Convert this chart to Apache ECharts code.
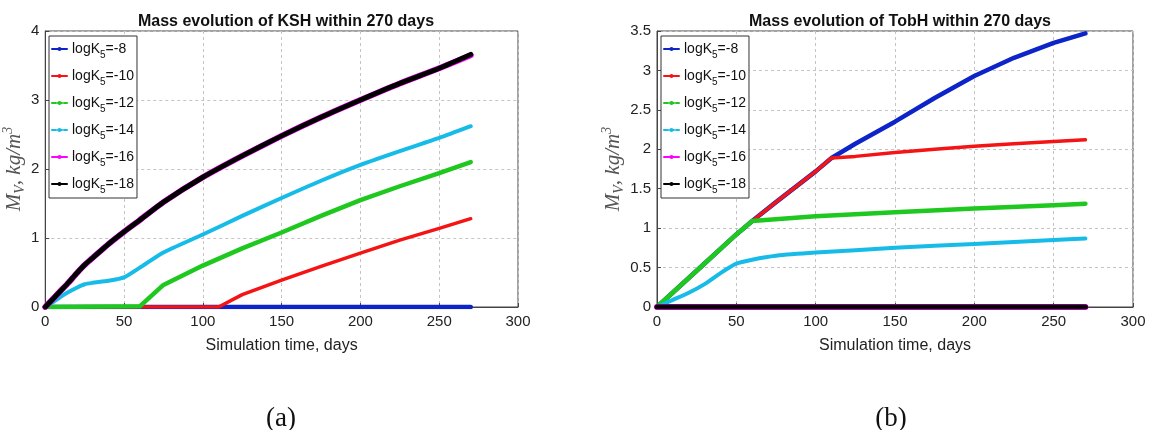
<!DOCTYPE html>
<html>
<head>
<meta charset="utf-8">
<script src="https://cdn.jsdelivr.net/npm/echarts@6/dist/echarts.min.js"></script>
<style>
html,body{margin:0;padding:0;background:#fff;}
#chart{width:1151px;height:430px;}
</style>
</head>
<body>
<div id="chart"></div>
<script>
// ---------- DATA ----------
const seriesNames = ['logK5=-8', 'logK5=-10', 'logK5=-12', 'logK5=-14', 'logK5=-16', 'logK5=-18'];
const titleA = 'Mass evolution of KSH within 270 days';
const titleB = 'Mass evolution of TobH within 270 days';
const xTicks = [0, 50, 100, 150, 200, 250, 300];
const yTicksA = [0, 1, 2, 3, 4];
const yTicksB = [0, 0.5, 1, 1.5, 2, 2.5, 3, 3.5];

// (a) KSH
const kshM8Days  = [0, 270];
const kshM8Vals  = [0, 0];
const kshM10Days = [0, 110, 125, 150, 175, 200, 225, 250, 270];
const kshM10Vals = [0, 0, 0.18, 0.39, 0.59, 0.78, 0.97, 1.14, 1.28];
const kshM12Days = [0, 60, 75, 100, 125, 150, 175, 200, 225, 250, 270];
const kshM12Vals = [0, 0.01, 0.32, 0.6, 0.85, 1.08, 1.32, 1.55, 1.75, 1.94, 2.1];
const kshM14Days = [0, 5, 10, 15, 20, 25, 30, 40, 50, 60, 75, 100, 125, 150, 175, 200, 225, 250, 270];
const kshM14Vals = [0, 0.07, 0.15, 0.22, 0.28, 0.33, 0.35, 0.38, 0.43, 0.57, 0.79, 1.05, 1.32, 1.58, 1.83, 2.06, 2.26, 2.45, 2.62];
const kshM16Days = [0, 5, 10, 15, 20, 25, 30, 40, 50, 60, 75, 100, 125, 150, 175, 200, 225, 250, 270];
const kshM16Vals = [0, 0.12, 0.24, 0.36, 0.49, 0.61, 0.71, 0.91, 1.09, 1.26, 1.52, 1.88, 2.19, 2.48, 2.75, 3.0, 3.24, 3.46, 3.65];
const kshM18Days = [0, 5, 10, 15, 20, 25, 30, 40, 50, 60, 75, 100, 125, 150, 175, 200, 225, 250, 270];
const kshM18Vals = [0, 0.12, 0.24, 0.36, 0.49, 0.61, 0.71, 0.91, 1.09, 1.26, 1.52, 1.88, 2.19, 2.48, 2.75, 3.0, 3.24, 3.46, 3.66];

// (b) TobH
const tobM8Days  = [0, 25, 50, 60, 75, 100, 110, 125, 150, 175, 200, 225, 250, 270];
const tobM8Vals  = [0, 0.46, 0.92, 1.09, 1.33, 1.72, 1.89, 2.07, 2.35, 2.65, 2.93, 3.16, 3.35, 3.47];
const tobM10Days = [0, 25, 50, 60, 75, 100, 110, 125, 150, 175, 200, 225, 250, 270];
const tobM10Vals = [0, 0.46, 0.92, 1.09, 1.33, 1.72, 1.89, 1.91, 1.96, 2.0, 2.04, 2.07, 2.1, 2.12];
const tobM12Days = [0, 25, 50, 60, 100, 150, 200, 250, 270];
const tobM12Vals = [0, 0.46, 0.92, 1.09, 1.15, 1.2, 1.25, 1.29, 1.31];
const tobM14Days = [0, 10, 20, 30, 40, 50, 60, 75, 100, 150, 200, 250, 270];
const tobM14Vals = [0, 0.09, 0.18, 0.29, 0.43, 0.55, 0.6, 0.65, 0.69, 0.75, 0.8, 0.85, 0.87];
const tobM16Days = [0, 270];
const tobM16Vals = [0, 0];
const tobM18Days = [0, 270];
const tobM18Vals = [0, 0];

// ---------- STYLES ----------
const colors = ['#0c24c8', '#f41414', '#1ec81e', '#16bbe8', '#ff00ff', '#000000'];
const widths = [4.5, 3.5, 4.5, 4, 6, 5];
const dashedLegend = [false, false, true, true, false, false];
const smoothA = [false, false, false, 0.2, 0.2, 0.2];
const smoothB = [false, false, false, 0.2, false, false];

function pairs(days, vals) { return days.map((d, i) => [d, vals[i]]); }

const ksh = [[kshM8Days, kshM8Vals], [kshM10Days, kshM10Vals], [kshM12Days, kshM12Vals],
             [kshM14Days, kshM14Vals], [kshM16Days, kshM16Vals], [kshM18Days, kshM18Vals]];
const tob = [[tobM8Days, tobM8Vals], [tobM10Days, tobM10Vals], [tobM12Days, tobM12Vals],
             [tobM14Days, tobM14Vals], [tobM16Days, tobM16Vals], [tobM18Days, tobM18Vals]];

const series = [];
[ksh, tob].forEach((set, gi) => {
  const sm = gi === 0 ? smoothA : smoothB;
  set.forEach((s, i) => {
    series.push({
      name: seriesNames[i],
      type: 'line',
      xAxisIndex: gi, yAxisIndex: gi,
      data: pairs(s[0], s[1]),
      showSymbol: false,
      symbol: 'circle',
      symbolSize: 4,
      smooth: sm[i],
      animation: false,
      color: colors[i],
      lineStyle: { width: widths[i], color: colors[i], cap: 'round', join: 'round' },
      emphasis: { disabled: true }
    });
  });
});

const legendData = seriesNames.map((n, i) => dashedLegend[i]
  ? { name: n, lineStyle: { type: [4, 2], width: 2 } }
  : { name: n, lineStyle: { width: 2 } });

const tickFont = { color: '#222', fontSize: 15, fontFamily: 'Liberation Sans, Arial, sans-serif' };

function legendCfg(left) {
  return {
    orient: 'vertical',
    left: left, top: 36,
    data: legendData,
    backgroundColor: '#fff',
    borderColor: '#333', borderWidth: 1,
    padding: [2, 3, 3, 2],
    itemGap: 5,
    itemWidth: 15, itemHeight: 5,
    selectedMode: false,
    formatter: n => n.replace('K5', 'K{s|5}'),
    textStyle: {
      color: '#111', fontSize: 14, fontFamily: 'Liberation Sans, Arial, sans-serif',
      rich: {
        s: { fontSize: 10, lineHeight: 10, verticalAlign: 'bottom', fontFamily: 'Liberation Sans, Arial, sans-serif', color: '#111' }
      },
      lineHeight: 22
    }
  };
}

const yName = '{m|M}{sub|V}{m|, kg/m}{sup|3}';
const yNameStyle = {
  color: '#555', fontFamily: 'Liberation Serif, serif', fontStyle: 'italic', fontSize: 21,
  rich: {
    m: { fontSize: 21, lineHeight: 26, fontStyle: 'italic', fontFamily: 'Liberation Serif, serif', color: '#555' },
    sub: { fontSize: 14, lineHeight: 13, verticalAlign: 'bottom', fontStyle: 'italic', fontFamily: 'Liberation Serif, serif', color: '#555' },
    sup: { fontSize: 14, lineHeight: 13, verticalAlign: 'top', fontFamily: 'Liberation Serif, serif', color: '#555' }
  }
};

function xAxisCfg(gi) {
  return {
    type: 'value', gridIndex: gi, min: xTicks[0], max: xTicks[xTicks.length - 1], interval: xTicks[1] - xTicks[0],
    name: 'Simulation time, days', nameLocation: 'middle', nameGap: 31,
    nameTextStyle: { color: '#222', fontSize: 16, fontFamily: 'Liberation Sans, Arial, sans-serif' },
    axisLine: { show: true, onZero: false, lineStyle: { color: '#444', width: 1 } },
    axisTick: { show: true, inside: true, length: 4, lineStyle: { color: '#444' } },
    axisLabel: Object.assign({ margin: 7 }, tickFont),
    splitLine: { show: true, lineStyle: { color: '#c4c4c4', type: [3, 3], width: 1 } }
  };
}
function yAxisCfg(gi, ticks, gap) {
  return {
    type: 'value', gridIndex: gi, min: ticks[0], max: ticks[ticks.length - 1], interval: ticks[1] - ticks[0],
    name: yName, nameLocation: 'middle', nameGap: gap, nameRotate: 90,
    nameTextStyle: yNameStyle,
    axisLine: { show: true, lineStyle: { color: '#444', width: 1 } },
    axisTick: { show: true, inside: true, length: 4, lineStyle: { color: '#444' } },
    axisLabel: Object.assign({ margin: 6 }, tickFont),
    splitLine: { show: true, lineStyle: { color: '#c4c4c4', type: [3, 3], width: 1 } }
  };
}

const chart = echarts.init(document.getElementById('chart'), null, { renderer: 'canvas' });
chart.setOption({
  backgroundColor: '#fff',
  animation: false,
  title: [
    { text: titleA, left: 281, top: 9, textAlign: 'center',
      textStyle: { fontSize: 16, fontWeight: 'bold', color: '#111', fontFamily: 'Liberation Sans, Arial, sans-serif' } },
    { text: titleB, left: 895, top: 9, textAlign: 'center',
      textStyle: { fontSize: 16, fontWeight: 'bold', color: '#111', fontFamily: 'Liberation Sans, Arial, sans-serif' } },
    { text: '(a)', left: 276, top: 400, textAlign: 'center',
      textStyle: { fontSize: 27, fontWeight: 'normal', color: '#111', fontFamily: 'Liberation Serif, serif' } },
    { text: '(b)', left: 886, top: 400, textAlign: 'center',
      textStyle: { fontSize: 27, fontWeight: 'normal', color: '#111', fontFamily: 'Liberation Serif, serif' } }
  ],
  legend: [legendCfg(49), legendCfg(661)],
  grid: [
    { left: 45, top: 31, width: 473, height: 276, show: true, borderColor: '#444', borderWidth: 1, backgroundColor: '#fff' },
    { left: 657, top: 31, width: 476, height: 276, show: true, borderColor: '#444', borderWidth: 1, backgroundColor: '#fff' }
  ],
  xAxis: [xAxisCfg(0), xAxisCfg(1)],
  yAxis: [yAxisCfg(0, yTicksA, 15), yAxisCfg(1, yTicksB, 28)],
  series: series
});
</script>
</body>
</html>
